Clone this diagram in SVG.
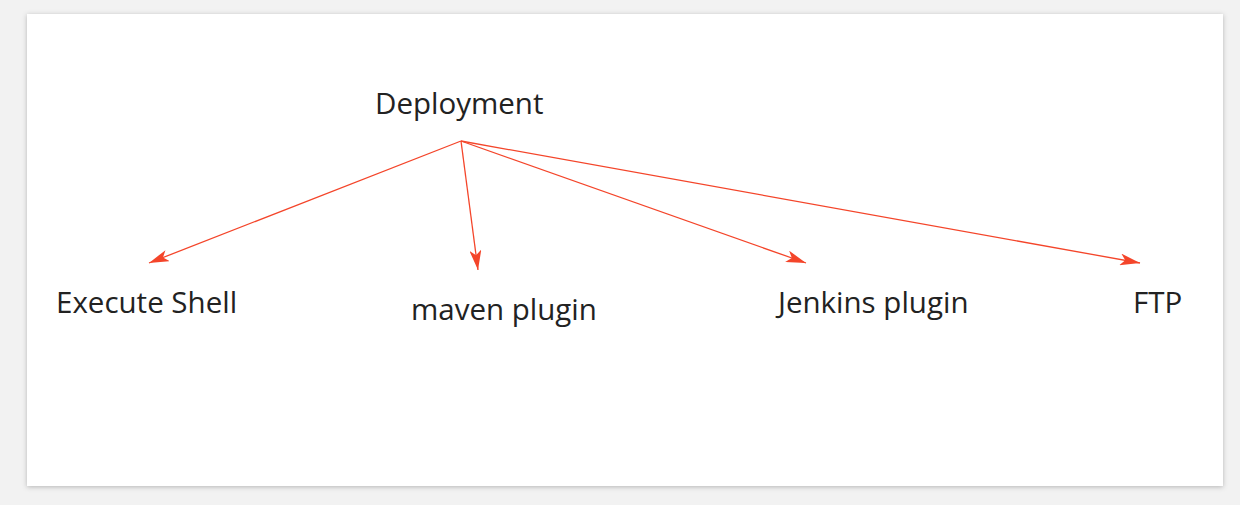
<svg xmlns="http://www.w3.org/2000/svg" width="1240" height="505" viewBox="0 0 1240 505">
<defs>
<filter id="sh" x="-5%" y="-5%" width="110%" height="110%">
<feDropShadow dx="0" dy="1" stdDeviation="2.5" flood-color="#000" flood-opacity="0.25"/>
</filter>
<marker id="ah" viewBox="0 0 20 12" refX="20" refY="6" markerWidth="20" markerHeight="12" markerUnits="userSpaceOnUse" orient="auto">
<path d="M0,0 L20,6 L0,12 L5,6 Z" fill="#f4452a"/>
</marker>
</defs>
<style>
.lbl{font-family:"Open Sans",sans-serif;font-size:29.5px;fill:#222}
.edge{stroke:#f4452a;stroke-width:1.3;fill:none;marker-end:url(#ah)}
</style>
<rect width="1240" height="505" fill="#f2f2f2"/>
<rect x="27" y="14" width="1196" height="472" fill="#fff" filter="url(#sh)"/>
<g id="connectors">
<line class="edge" x1="461" y1="141" x2="149" y2="263"/>
<line class="edge" x1="461" y1="141" x2="478" y2="270"/>
<line class="edge" x1="461" y1="141" x2="806" y2="263"/>
<line class="edge" x1="461" y1="141" x2="1140" y2="263"/>
</g>
<g id="deployment"><text class="lbl" x="375" y="114">Deployment</text></g>
<g id="execute-shell"><text class="lbl" x="56" y="313">Execute Shell</text></g>
<g id="maven-plugin"><text class="lbl" x="411" y="320">maven plugin</text></g>
<g id="jenkins-plugin"><text class="lbl" x="778" y="313">Jenkins plugin</text></g>
<g id="ftp"><text class="lbl" x="1133" y="313">FTP</text></g>
</svg>
